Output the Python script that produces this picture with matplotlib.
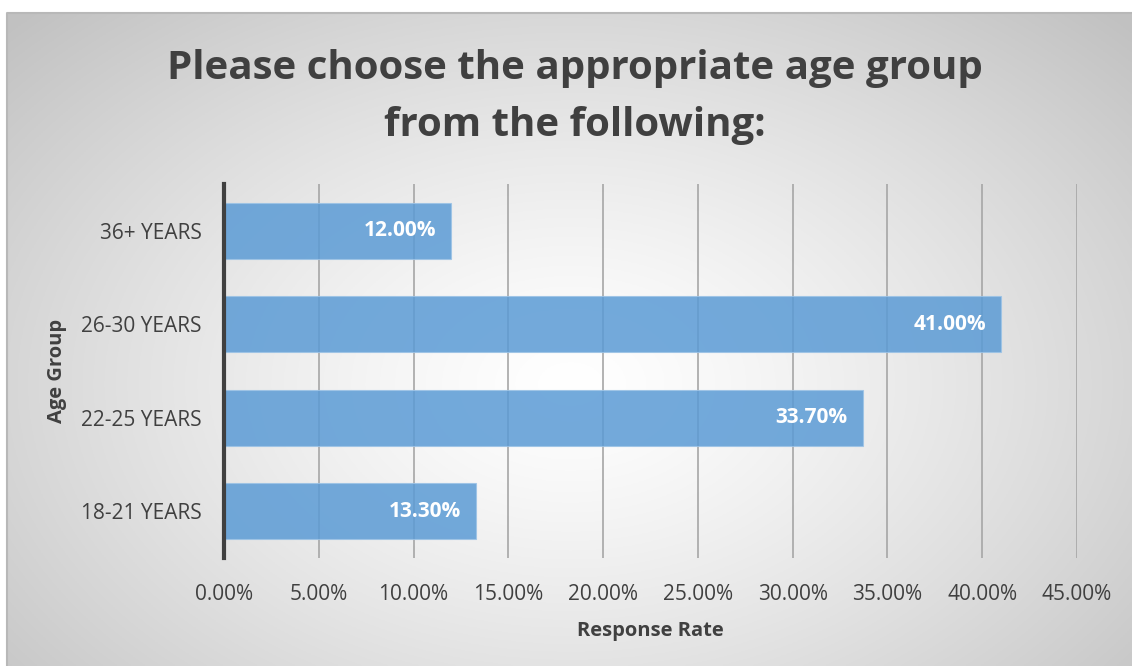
import numpy as np
import matplotlib
matplotlib.use("Agg")
import matplotlib.pyplot as plt
from matplotlib.ticker import FuncFormatter

categories = ["18-21 YEARS", "22-25 YEARS", "26-30 YEARS", "36+ YEARS"]
values = [13.30, 33.70, 41.00, 12.00]
xticks = [0, 5, 10, 15, 20, 25, 30, 35, 40, 45]

FONT = ["Open Sans", "DejaVu Sans"]
plt.rcParams["font.family"] = FONT

W, H = 1132, 666
fig = plt.figure(figsize=(W / 100, H / 100), dpi=100)
fig.patch.set_facecolor("white")

# background panel with radial gradient
bg = fig.add_axes([7 / W, 0, 1 - 7 / W, 1 - 13 / H])
bg.set_axis_off()
yy, xx = np.mgrid[0:300, 0:500]
cx, cy = 250, 170
r = np.sqrt(((xx - cx) / 330) ** 2 + ((yy - cy) / 230) ** 2)
g = np.clip(1 - 0.23 * r ** 1.3, 0.76, 1.0)
img = np.dstack([g, g, g])
bg.imshow(img, aspect="auto", extent=[0, 1, 0, 1], origin="upper")
bg.set_xlim(0, 1)
bg.set_ylim(0, 1)
bg.plot([0, 0, 1], [0, 1, 1], color="#b8b8b8", lw=1.5, transform=bg.transAxes, clip_on=False)

ax = fig.add_axes([224 / W, 1 - 558 / H, (1077 - 224) / W, (558 - 184) / H])
ax.patch.set_alpha(0)
y = np.arange(len(categories))
bars = ax.barh(y, values, height=0.6, color="#5b9bd5", alpha=0.85,
               edgecolor="#9cc3e6", linewidth=0.8, zorder=3)
ax.set_xlim(0, 45)
ax.set_ylim(-0.5, len(categories) - 0.5)
ax.set_xticks(xticks)
ax.xaxis.set_major_formatter(FuncFormatter(lambda v, p: f"{v:.2f}%"))
ax.set_yticks(y)
ax.set_yticklabels(categories)
ax.grid(axis="x", color="#a6a6a6", lw=1.2, zorder=1)
for s in ["top", "right", "bottom"]:
    ax.spines[s].set_visible(False)
ax.spines["left"].set_color("#404040")
ax.spines["left"].set_linewidth(3)
ax.spines["left"].set_zorder(4)
ax.tick_params(axis="both", length=0, labelsize=15, colors="#404040")
ax.tick_params(axis="x", pad=19)
ax.tick_params(axis="y", pad=16)

for b, v in zip(bars, values):
    ax.text(v - 0.8, b.get_y() + b.get_height() / 2, f"{v:.2f}%",
            ha="right", va="center", color="white", fontsize=15,
            fontweight="bold", zorder=5)

ax.set_xlabel("Response Rate", fontsize=14.5, fontweight="bold", color="#404040", labelpad=11)
ax.set_ylabel("Age Group", fontsize=14.5, fontweight="bold", color="#404040", labelpad=10)

fig.text(575 / W, 1 - 97 / H, "Please choose the appropriate age group\nfrom the following:",
         ha="center", va="center", fontsize=29, fontweight="bold", color="#404040",
         linespacing=1.6)

fig.savefig("out.png", dpi=100)
